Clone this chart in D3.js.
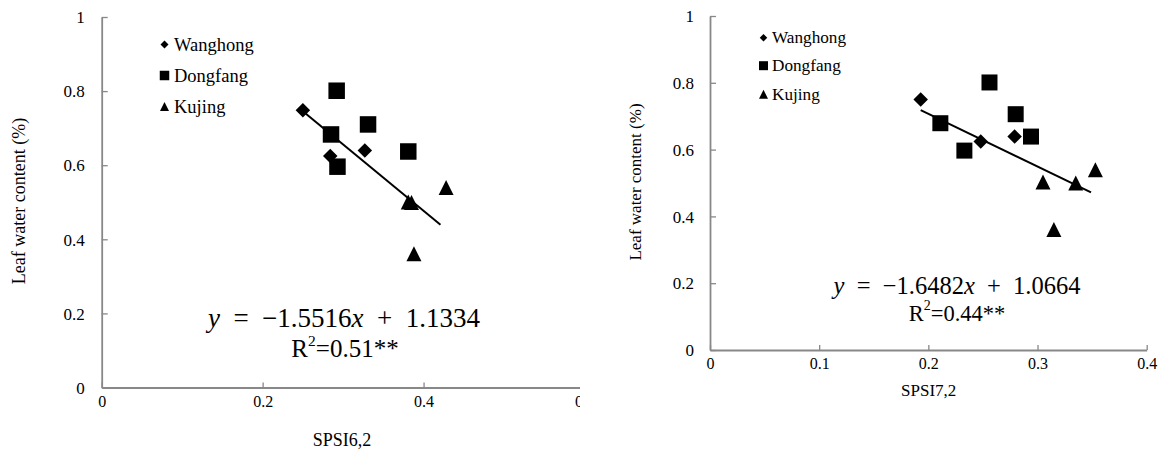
<!DOCTYPE html>
<html>
<head>
<meta charset="utf-8">
<script src="https://cdn.jsdelivr.net/npm/d3@7"></script>
<style>
  html, body { margin: 0; padding: 0; background: #fff; }
  svg { display: block; }
</style>
</head>
<body>
<svg id="chart" width="1164" height="450"></svg>
<script>
// ---------- Data ----------
const seriesNames = ["Wanghong", "Dongfang", "Kujing"];

// Left panel: SPSI6,2
const wangLeftX = [0.250, 0.284, 0.327];
const wangLeftY = [0.748, 0.625, 0.640];
const dongLeftX = [0.292, 0.285, 0.293, 0.331, 0.381];
const dongLeftY = [0.801, 0.683, 0.596, 0.710, 0.637];
const kujLeftX  = [0.428, 0.381, 0.385, 0.388];
const kujLeftY  = [0.540, 0.501, 0.499, 0.361];
const trendLeftX = [0.253, 0.421];
const trendLeftY = [0.740, 0.439];
const xTicksLeft = [0, 0.2, 0.4, 0.6];

// Right panel: SPSI7,2
const wangRightX = [0.193, 0.248, 0.279];
const wangRightY = [0.750, 0.624, 0.639];
const dongRightX = [0.211, 0.233, 0.256, 0.280, 0.294];
const dongRightY = [0.679, 0.597, 0.801, 0.706, 0.639];
const kujRightX  = [0.305, 0.335, 0.353, 0.315];
const kujRightY  = [0.503, 0.500, 0.540, 0.361];
const trendRightX = [0.193, 0.349];
const trendRightY = [0.718, 0.472];
const xTicksRight = [0, 0.1, 0.2, 0.3, 0.4];

const yTicks = [0, 0.2, 0.4, 0.6, 0.8, 1];

const FONT = '"Liberation Serif", "Times New Roman", Tinos, "Nimbus Roman", "DejaVu Serif", serif';

// ---------- Helpers ----------
function markerPath(type, s) {
  const h = s / 2;
  if (type === "diamond") return `M0,${-h}L${h},0L0,${h}L${-h},0Z`;
  if (type === "square") return `M${-h},${-h}H${h}V${h}H${-h}Z`;
  return `M0,${-h}L${h},${h}L${-h},${h}Z`;
}
const shapes = ["diamond", "square", "triangle"];

const svg = d3.select("#chart");
svg.append("defs").append("clipPath").attr("id", "clipLeft")
  .append("rect").attr("x", 0).attr("y", 0).attr("width", 580).attr("height", 450);

function panel(cfg) {
  const g = svg.append("g").style("font-family", FONT);
  if (cfg.clip) g.attr("clip-path", `url(#${cfg.clip})`);
  const x = d3.scaleLinear().domain(cfg.xDomain).range(cfg.xRange);
  const y = d3.scaleLinear().domain([0, 1]).range(cfg.yRange);

  const fmt = d3.format("");
  const ya = g.append("g").attr("transform", `translate(${cfg.xRange[0]},0)`)
    .call(d3.axisLeft(y).tickValues(yTicks).tickFormat(fmt)
      .tickSizeInner(-6).tickSizeOuter(0).tickPadding(cfg.yPad));
  const xa = g.append("g").attr("transform", `translate(0,${cfg.yRange[0]})`)
    .call(d3.axisBottom(x).tickValues(cfg.xTicks).tickFormat(fmt)
      .tickSizeInner(-5).tickSizeOuter(0).tickPadding(cfg.xPad));
  [[ya, cfg.yTickFont], [xa, cfg.xTickFont]].forEach(([a, fs]) => {
    a.attr("font-family", null).style("font-family", FONT).attr("font-size", fs);
    a.select(".domain").attr("stroke", "#888").attr("stroke-width", 1.8);
    a.selectAll(".tick line").attr("stroke", "#888").attr("stroke-width", 1.3);
    a.selectAll(".tick text").style("font-family", FONT)
      .attr("font-size", fs).attr("fill", "#000");
  });
  ya.selectAll(".tick text").attr("dy", "0.34em");

  g.append("text")
    .attr("transform", `translate(${cfg.yTitlePos[0]},${cfg.yTitlePos[1]}) rotate(-90)`)
    .attr("text-anchor", "middle").attr("dominant-baseline", "central")
    .attr("font-size", cfg.titleFont).text("Leaf water content (%)");
  g.append("text")
    .attr("x", cfg.xTitlePos[0]).attr("y", cfg.xTitlePos[1])
    .attr("text-anchor", "middle").attr("dominant-baseline", "central")
    .attr("font-size", cfg.titleFont).text(cfg.xTitle);

  g.append("line")
    .attr("x1", x(cfg.trendX[0])).attr("y1", y(cfg.trendY[0]))
    .attr("x2", x(cfg.trendX[1])).attr("y2", y(cfg.trendY[1]))
    .attr("stroke", "#000").attr("stroke-width", 2);

  cfg.series.forEach((s, i) => {
    const pts = s.x.map((v, j) => [v, s.y[j]]);
    g.selectAll(null).data(pts).enter().append("path")
      .attr("d", markerPath(shapes[i], cfg.markerSize[i]))
      .attr("transform", d => `translate(${x(d[0])},${y(d[1])})`)
      .attr("fill", "#000");
  });

  seriesNames.forEach((name, i) => {
    const ly = cfg.legendY[i];
    g.append("path").attr("d", markerPath(shapes[i], cfg.legendMarker[i]))
      .attr("transform", `translate(${cfg.legendMarkerX},${ly})`).attr("fill", "#000");
    g.append("text").attr("x", cfg.legendTextX).attr("y", ly)
      .attr("dominant-baseline", "central").attr("font-size", cfg.legendFont).text(name);
  });

  const eq = g.append("text").attr("x", cfg.eqPos[0]).attr("y", cfg.eqPos[1])
    .attr("text-anchor", "middle").attr("dominant-baseline", "central")
    .attr("font-size", cfg.eqFont);
  const gap = "\u2002";
  eq.append("tspan").attr("font-style", "italic").text("y");
  eq.append("tspan").text(gap + "=" + gap + "\u2212" + cfg.slope);
  eq.append("tspan").attr("font-style", "italic").text("x");
  eq.append("tspan").text(gap + "+" + gap + cfg.intercept);

  const r2 = g.append("text").attr("x", cfg.r2Pos[0]).attr("y", cfg.r2Pos[1])
    .attr("text-anchor", "middle").attr("dominant-baseline", "central")
    .attr("font-size", cfg.r2Font);
  r2.append("tspan").text("R");
  r2.append("tspan").attr("font-size", cfg.r2Font * 0.62).attr("dy", -cfg.r2Font * 0.33).text("2");
  r2.append("tspan").attr("dy", cfg.r2Font * 0.33).text("=" + cfg.r2);
}

panel({
  clip: "clipLeft",
  xDomain: [0, 0.6], xRange: [101.7, 584.5], yRange: [387.5, 17],
  xTicks: xTicksLeft, yPad: 17, xPad: 8, yTickFont: 17, xTickFont: 16, titleFont: 18,
  yTitlePos: [18.5, 201], xTitlePos: [342, 440], xTitle: "SPSI6,2",
  trendX: trendLeftX, trendY: trendLeftY,
  series: [{x: wangLeftX, y: wangLeftY}, {x: dongLeftX, y: dongLeftY}, {x: kujLeftX, y: kujLeftY}],
  markerSize: [14.5, 16.5, 15],
  legendY: [44.5, 75.5, 106.5], legendMarkerX: 164.5, legendTextX: 174, legendFont: 18.5,
  legendMarker: [8, 9.5, 9],
  eqPos: [344, 318], eqFont: 27, slope: "1.5516", intercept: "1.1334",
  r2Pos: [345, 348], r2Font: 25, r2: "0.51**"
});

panel({
  xDomain: [0, 0.4], xRange: [710, 1146.7], yRange: [350, 16],
  xTicks: xTicksRight, yPad: 16, xPad: 8, yTickFont: 17, xTickFont: 16, titleFont: 17,
  yTitlePos: [635, 182], xTitlePos: [928.7, 390], xTitle: "SPSI7,2",
  trendX: trendRightX, trendY: trendRightY,
  series: [{x: wangRightX, y: wangRightY}, {x: dongRightX, y: dongRightY}, {x: kujRightX, y: kujRightY}],
  markerSize: [14.5, 16, 15],
  legendY: [37.7, 65.7, 94.3], legendMarkerX: 763.5, legendTextX: 772, legendFont: 17.2,
  legendMarker: [7.5, 9, 9],
  eqPos: [957, 285], eqFont: 24.5, slope: "1.6482", intercept: "1.0664",
  r2Pos: [957, 312.7], r2Font: 22.5, r2: "0.44**"
});
</script>
</body>
</html>
